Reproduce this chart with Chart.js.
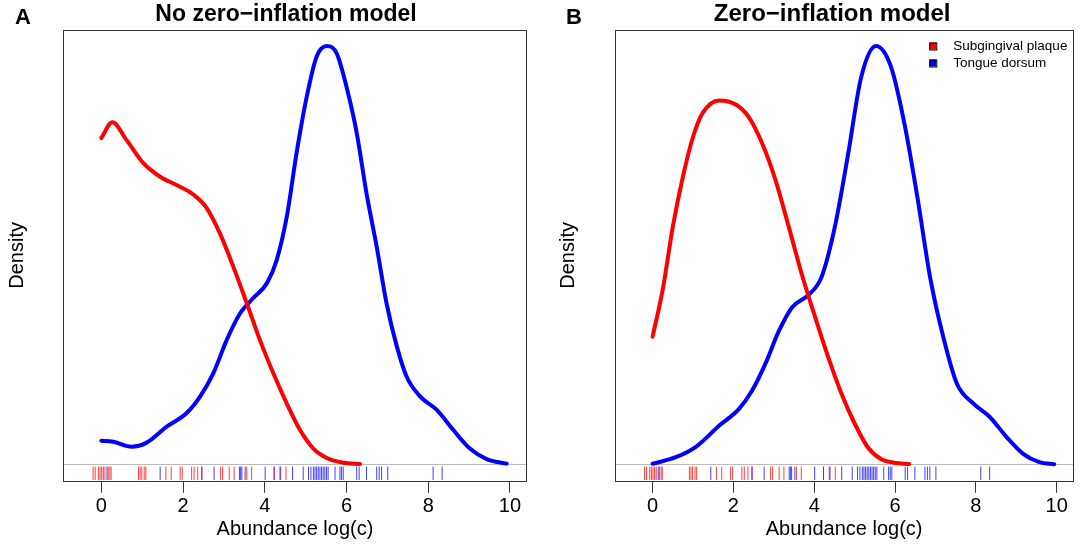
<!DOCTYPE html>
<html>
<head>
<meta charset="utf-8">
<script src="https://cdn.jsdelivr.net/npm/chart.js@4"></script>
<style>
  html, body { margin: 0; padding: 0; background: #fff; }
  body { width: 1081px; height: 550px; position: relative; overflow: hidden; }
  .panel { position: absolute; top: 0; width: 540px; height: 550px; }
</style>
</head>
<body>
<div class="panel" style="left:0"><canvas id="chartA" width="540" height="550"></canvas></div>
<div class="panel" style="left:541px"><canvas id="chartB" width="540" height="550"></canvas></div>
<script>
const family = "'Liberation Sans', Arial, Helvetica, sans-serif";

const seriesNames = ["Subgingival plaque", "Tongue dorsum"];
const xTicks = [0, 2, 4, 6, 8, 10];

// density curves, [abundance, density]
const redA = [[0, 0.312], [0.27, 0.327], [0.62, 0.310], [1.03, 0.288], [1.44, 0.275], [1.84, 0.267],
  [2.25, 0.258], [2.58, 0.245], [2.90, 0.221], [3.23, 0.189], [3.56, 0.154], [3.88, 0.119],
  [4.21, 0.087], [4.54, 0.058], [4.86, 0.033], [5.19, 0.015], [5.52, 0.006], [5.92, 0.0015], [6.33, 0.0003]];
const blueA = [[0, 0.0226], [0.29, 0.0216], [0.74, 0.0168], [1.11, 0.0207], [1.60, 0.036], [2.09, 0.049],
  [2.42, 0.065], [2.74, 0.087], [3.07, 0.119], [3.39, 0.144], [3.72, 0.159], [4.05, 0.173],
  [4.29, 0.195], [4.54, 0.237], [4.78, 0.298], [5.03, 0.352], [5.27, 0.390], [5.52, 0.400],
  [5.76, 0.393], [6.0, 0.361], [6.25, 0.317], [6.49, 0.259], [6.74, 0.208], [6.98, 0.154],
  [7.23, 0.113], [7.47, 0.084], [7.80, 0.065], [8.21, 0.052], [8.61, 0.033], [9.02, 0.015],
  [9.43, 0.005], [9.92, 0.0006]];
const redB = [[0, 0.122], [0.26, 0.169], [0.50, 0.227], [0.75, 0.275], [1.0, 0.313], [1.24, 0.336],
  [1.65, 0.348], [2.06, 0.344], [2.38, 0.332], [2.71, 0.307], [3.04, 0.272], [3.37, 0.227],
  [3.69, 0.182], [4.02, 0.141], [4.35, 0.102], [4.67, 0.068], [5.0, 0.039], [5.33, 0.016],
  [5.65, 0.005], [5.98, 0.0015], [6.35, 0.0002]];
const blueB = [[0, 0.0005], [0.59, 0.007], [1.08, 0.017], [1.65, 0.037], [2.14, 0.053], [2.47, 0.071],
  [2.79, 0.096], [3.12, 0.127], [3.45, 0.150], [3.86, 0.162], [4.18, 0.179], [4.51, 0.227],
  [4.84, 0.297], [5.16, 0.370], [5.53, 0.400], [5.90, 0.380], [6.23, 0.326], [6.55, 0.256],
  [6.88, 0.176], [7.21, 0.119], [7.53, 0.077], [7.94, 0.058], [8.35, 0.045], [8.76, 0.026],
  [9.17, 0.010], [9.57, 0.002], [9.94, 0.0]];

// rug (observed samples)
const rugRed = [-0.20, -0.15, -0.07, -0.03, 0.01, 0.05, 0.09, 0.17, 0.21, 0.24, 0.91, 0.95, 0.99, 1.05,
  1.09, 1.58, 1.71, 1.93, 1.98, 2.21, 2.27, 2.36, 2.46, 2.92, 2.97, 3.13, 3.25, 3.56, 3.68,
  4.23, 4.37, 4.52];
const rugBlue = [0.14, 1.44, 2.46, 2.76, 3.38, 3.41, 3.44, 3.52, 4.01, 4.23, 4.39, 4.68, 4.94, 5.07,
  5.13, 5.19, 5.23, 5.27, 5.31, 5.35, 5.39, 5.43, 5.47, 5.51, 5.55, 5.72, 5.84, 5.88, 5.92,
  6.25, 6.31, 6.49, 6.74, 6.80, 6.86, 7.01, 8.12, 8.34];

const RED = "#ff0000";
const BLUE = "#0000ff";
const RUG_Y = -0.0086;

const panelDecor = {
    id: "panelDecor",
    afterDraw(chart, args, opts) {
        const { ctx, chartArea: a } = chart;
        ctx.save();
        ctx.strokeStyle = "#333";
        ctx.lineWidth = 1;
        ctx.strokeRect(Math.round(a.left) + 0.5, Math.round(a.top) + 0.5,
            Math.round(a.right - a.left), Math.round(a.bottom - a.top));

        ctx.fillStyle = "#000";
        ctx.textBaseline = "alphabetic";
        ctx.font = "bold " + opts.titleSize + "px " + family;
        ctx.textAlign = "center";
        ctx.fillText(opts.title, (a.left + a.right) / 2 + opts.titleShift, 21);
        ctx.font = "bold 22px " + family;
        ctx.textAlign = "left";
        ctx.fillText(opts.letter, opts.letterX, 24);

        if (opts.legend) {
            const colors = [RED, BLUE];
            ctx.font = "13.5px " + family;
            ctx.textBaseline = "middle";
            seriesNames.forEach((name, i) => {
                const y = 46 + i * 17;
                ctx.fillStyle = colors[i];
                ctx.fillRect(a.right - 144, y - 3.5, 7, 7);
                ctx.strokeStyle = "#000";
                ctx.strokeRect(a.right - 144 + 0.5, y - 3.5 + 0.5, 7, 7);
                ctx.fillStyle = "#000";
                ctx.fillText(name, a.right - 120, y);
            });
        }
        ctx.restore();
    },
};

const curve = (data, color) => ({
    data: data,
    showLine: true,
    borderColor: color,
    borderWidth: 4,
    borderCapStyle: "round",
    borderJoinStyle: "round",
    cubicInterpolationMode: "monotone",
    pointRadius: 0,
});

const rug = (values, color) => ({
    data: values.map((v) => ({ x: v, y: RUG_Y })),
    showLine: false,
    pointStyle: "line",
    pointRotation: 90,
    pointRadius: 6.7,
    pointBorderWidth: 1,
    pointBorderColor: color,
    pointBackgroundColor: color,
});

const makePanel = (id, cfg) => {
    const font = { size: 20, family: family };
    return new Chart(document.getElementById(id), {
        type: "scatter",
        data: {
            datasets: [
                curve(cfg.red, RED),
                curve(cfg.blue, BLUE),
                rug(rugRed, "rgba(255, 0, 0, 0.75)"),
                rug(rugBlue, "rgba(0, 0, 255, 0.75)"),
            ],
        },
        options: {
            responsive: false,
            animation: false,
            events: [],
            layout: { padding: { left: 0, right: cfg.rightPad, top: 30, bottom: 0 } },
            plugins: {
                legend: { display: false },
                tooltip: { enabled: false },
                panelDecor: cfg.decor,
            },
            scales: {
                x: {
                    type: "linear",
                    min: -0.93,
                    max: 10.41,
                    afterBuildTicks: (axis) => {
                        axis.ticks = xTicks.map((v) => ({ value: v }));
                    },
                    afterFit: (axis) => {
                        axis.height = 69.3;
                    },
                    border: { display: false },
                    grid: { drawOnChartArea: false, tickLength: 12, tickColor: "#333", color: "#333" },
                    ticks: { font: font, color: "#000", padding: 2, maxRotation: 0, autoSkip: false },
                    title: { display: true, text: "Abundance log(c)", font: font, color: "#000", padding: { top: 0, bottom: 9 } },
                },
                y: {
                    min: -0.0157,
                    max: 0.4153,
                    afterBuildTicks: (axis) => {
                        axis.ticks = [{ value: 0 }];
                    },
                    afterFit: (axis) => {
                        axis.width = cfg.leftWidth;
                    },
                    border: { display: false },
                    grid: { color: "#bbb", drawTicks: false },
                    ticks: { display: false },
                    title: { display: true, text: "Density", font: font, color: "#000", padding: { top: cfg.densityPad, bottom: 0 } },
                },
            },
        },
        plugins: [panelDecor],
    });
};

makePanel("chartA", {
    red: redA,
    blue: blueA,
    leftWidth: 63.3,
    rightPad: 13.3,
    densityPad: 5,
    decor: { title: "No zero\u2212inflation model", titleSize: 23, titleShift: -9, letter: "A", letterX: 15, legend: false },
});

makePanel("chartB", {
    red: redB,
    blue: blueB,
    leftWidth: 74,
    rightPad: 2.7,
    densityPad: 15,
    decor: { title: "Zero\u2212inflation model", titleSize: 24, titleShift: -12, letter: "B", letterX: 25, legend: true },
});
</script>
</body>
</html>
